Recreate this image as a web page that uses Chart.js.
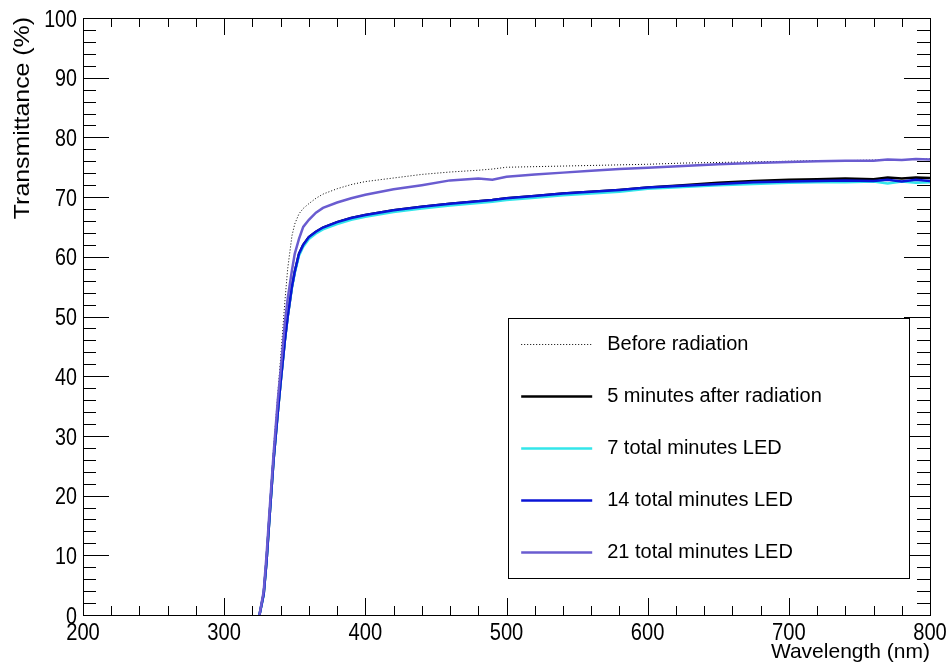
<!DOCTYPE html>
<html>
<head>
<meta charset="utf-8">
<script src="https://cdn.jsdelivr.net/npm/chart.js@4.4.1/dist/chart.umd.min.js"></script>
<style>
	html, body { margin: 0; padding: 0; background: #fff; }
	#wrap { width: 951px; height: 667px; position: relative; }
</style>
</head>
<body>
<div id="wrap"><canvas id="trans"></canvas></div>
<script>
// wavelength samples (nm) shared by every curve
var wavelength = [325, 328, 330, 332, 335, 338, 340, 343, 345, 348, 350, 353, 356, 360, 365, 370, 380, 390, 400, 420,
	440, 460, 480, 490, 500, 520, 540, 560, 580, 600, 625, 650, 675, 700, 720, 740, 760, 770, 780, 790, 800];

var beforeRad = [0, 4, 10, 17, 28, 37, 43, 52.5, 58, 63.5, 65.5, 67.2, 68.1, 68.9, 69.8, 70.5, 71.4, 72.1, 72.6, 73.2,
	73.8, 74.2, 74.5, 74.7, 75, 75.1, 75.2, 75.3, 75.4, 75.5, 75.7, 75.8, 75.9, 76.0, 76.1, 76.1, 76.2, 76.2, 76.3, 76.3, 76.4];

var after5min = [0, 3.5, 9, 16, 26, 34, 39, 46, 50, 55, 57.5, 60.5, 62, 63.3, 64.2, 64.9, 65.8, 66.5, 67.0, 67.8,
	68.4, 68.9, 69.3, 69.5, 69.8, 70.2, 70.6, 70.9, 71.2, 71.6, 72.0, 72.4, 72.7, 72.9, 73.0, 73.1, 73.0, 73.3, 73.1, 73.3, 73.2];

var led7min = [0, 3.5, 9, 16, 26, 34, 39, 46, 50, 54.8, 57.3, 60.2, 61.7, 63.0, 63.9, 64.6, 65.5, 66.2, 66.7, 67.5,
	68.1, 68.6, 69.0, 69.2, 69.5, 69.9, 70.3, 70.6, 70.9, 71.4, 71.7, 72.0, 72.2, 72.4, 72.5, 72.5, 72.6, 72.3, 72.6, 72.4, 72.5];

var led14min = [0, 3.5, 9, 16, 26, 34, 39, 46, 50, 55, 57.5, 60.5, 62, 63.3, 64.2, 64.9, 65.8, 66.5, 67.0, 67.8,
	68.4, 68.9, 69.3, 69.5, 69.8, 70.2, 70.6, 70.9, 71.2, 71.6, 71.9, 72.2, 72.5, 72.6, 72.7, 72.8, 72.7, 72.9, 72.6, 72.9, 72.7];

var led21min = [0, 4, 10, 17, 27, 36, 41, 49, 53, 57.7, 60.5, 63, 65, 66.2, 67.4, 68.2, 69.1, 69.8, 70.4, 71.3,
	72.0, 72.8, 73.1, 72.9, 73.4, 73.8, 74.1, 74.4, 74.7, 74.9, 75.2, 75.5, 75.7, 75.9, 76.0, 76.1, 76.1, 76.3, 76.2, 76.4, 76.3];

var xTicks = [200, 300, 400, 500, 600, 700, 800];
var yTicks = [0, 10, 20, 30, 40, 50, 60, 70, 80, 90, 100];

var FONT = '"Liberation Sans", Arial, sans-serif';

function pts(ys) {
	return wavelength.map(function (w, i) { return { x: w, y: ys[i] }; });
}

function series(label, ys, color, width, dash, order) {
	return {
		label: label,
		data: pts(ys),
		borderColor: color,
		backgroundColor: color,
		borderWidth: width,
		borderDash: dash,
		pointRadius: 0,
		tension: 0,
		order: order
	};
}

// narrow text: squeeze along x by sx around the anchor point
function narrowText(ctx, txt, x, y, sx, align) {
	ctx.save();
	ctx.translate(x, y);
	ctx.scale(sx, 1);
	ctx.textAlign = align;
	ctx.fillText(txt, 0, 0);
	ctx.restore();
}

// frame, inward ticks, labels, axis titles and the boxed legend
var rootStyle = {
	id: 'rootStyle',
	afterDraw: function (chart) {
		var ctx = chart.ctx, ca = chart.chartArea,
			xs = chart.scales.x, ys = chart.scales.y, v, p, len;
		ctx.save();
		ctx.strokeStyle = '#000';
		ctx.lineWidth = 1;
		ctx.strokeRect(ca.left + 0.5, ca.top + 0.5, ca.right - ca.left, ca.bottom - ca.top);

		ctx.beginPath();
		for (v = 200; v <= 800; v += 20) {
			p = Math.round(xs.getPixelForValue(v)) + 0.5;
			len = v % 100 === 0 ? 17 : 9;
			ctx.moveTo(p, ca.bottom); ctx.lineTo(p, ca.bottom - len);
			ctx.moveTo(p, ca.top); ctx.lineTo(p, ca.top + len);
		}
		for (v = 0; v <= 100; v += 2) {
			p = Math.round(ys.getPixelForValue(v)) + 0.5;
			len = v % 10 === 0 ? 26 : 13;
			ctx.moveTo(ca.left, p); ctx.lineTo(ca.left + len, p);
			ctx.moveTo(ca.right, p); ctx.lineTo(ca.right - len, p);
		}
		ctx.stroke();

		// tick labels
		ctx.fillStyle = '#000';
		ctx.font = '24px ' + FONT;
		ctx.textBaseline = 'middle';
		yTicks.forEach(function (t) {
			narrowText(ctx, String(t), ca.left - 6, ys.getPixelForValue(t) + 2, 0.82, 'right');
		});
		ctx.textBaseline = 'alphabetic';
		xTicks.forEach(function (t) {
			narrowText(ctx, String(t), xs.getPixelForValue(t), 640, 0.84, 'center');
		});

		// axis titles
		ctx.font = '21px ' + FONT;
		ctx.textAlign = 'right';
		ctx.fillText('Wavelength (nm)', ca.right, 658);
		ctx.save();
		ctx.font = '22px ' + FONT;
		ctx.translate(29, ca.top - 1);
		ctx.rotate(-Math.PI / 2);
		ctx.scale(1.13, 1);
		ctx.textAlign = 'right';
		ctx.fillText('Transmittance (%)', 0, 0);
		ctx.restore();

		// legend box
		var w = ca.right - ca.left, h = ca.bottom - ca.top;
		var bx = ca.left + 0.502 * w, bx2 = ca.left + 0.976 * w,
			by = ca.top + 0.503 * h, by2 = ca.top + 0.938 * h;
		ctx.fillStyle = '#fff';
		ctx.fillRect(bx, by, bx2 - bx, by2 - by);
		ctx.strokeRect(Math.round(bx) + 0.5, Math.round(by) + 0.5, Math.round(bx2 - bx), Math.round(by2 - by));
		var step = (by2 - by) / 5;
		ctx.font = '20px ' + FONT;
		ctx.textAlign = 'left';
		ctx.textBaseline = 'middle';
		chart.data.datasets.forEach(function (ds, i) {
			var cy = Math.round(by + step * (i + 0.5)) + 0.5;
			ctx.strokeStyle = ds.borderColor;
			ctx.lineWidth = ds.borderWidth;
			ctx.setLineDash(ds.borderDash || []);
			ctx.beginPath();
			ctx.moveTo(bx + 13, cy);
			ctx.lineTo(bx + 84, cy);
			ctx.stroke();
			ctx.setLineDash([]);
			ctx.fillStyle = '#000';
			ctx.fillText(ds.label, bx + 99, cy);
		});
		ctx.restore();
	}
};

new Chart(document.getElementById('trans').getContext('2d'), {
	type: 'line',
	data: {
		datasets: [
			series('Before radiation', beforeRad, '#000000', 1, [1, 2], 5),
			series('5 minutes after radiation', after5min, '#000000', 2.5, [], 4),
			series('7 total minutes LED', led7min, '#33e6ea', 2.5, [], 3),
			series('14 total minutes LED', led14min, '#0a14d6', 2.5, [], 2),
			series('21 total minutes LED', led21min, '#6a5cd0', 2.5, [], 1)
		]
	},
	options: {
		responsive: true,
		maintainAspectRatio: false,
		animation: false,
		layout: { padding: { left: 0, top: 18, right: 21, bottom: 0 } },
		plugins: {
			legend: { display: false },
			tooltip: { enabled: false }
		},
		scales: {
			x: {
				type: 'linear',
				min: 200,
				max: 800,
				afterBuildTicks: function (s) { s.ticks = xTicks.map(function (v) { return { value: v }; }); },
				afterFit: function (s) { s.height = 52; },
				grid: { display: false, drawTicks: false },
				border: { display: false },
				ticks: { display: false }
			},
			y: {
				min: 0,
				max: 100,
				afterBuildTicks: function (s) { s.ticks = yTicks.map(function (v) { return { value: v }; }); },
				afterFit: function (s) { s.width = 83; },
				grid: { display: false, drawTicks: false },
				border: { display: false },
				ticks: { display: false }
			}
		}
	},
	plugins: [rootStyle]
});
</script>
</body>
</html>
